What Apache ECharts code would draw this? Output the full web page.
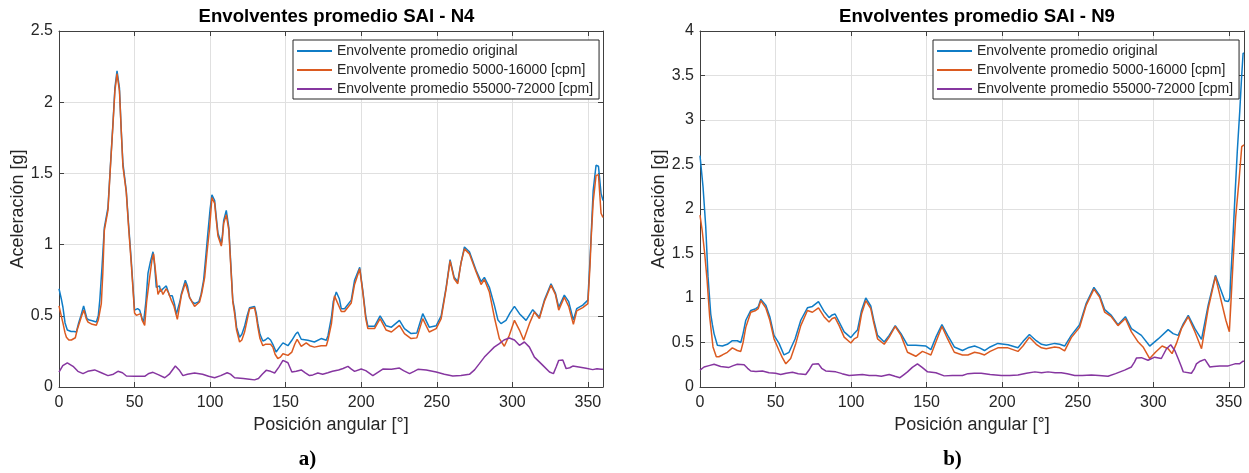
<!DOCTYPE html>
<html>
<head>
<meta charset="utf-8">
<title>Envolventes promedio SAI</title>
<script src="https://cdn.jsdelivr.net/npm/echarts@6/dist/echarts.min.js"></script>
<style>
  html, body { margin: 0; padding: 0; background: #fff; }
  #main { width: 1249px; height: 473px; }
</style>
</head>
<body>
<div id="main"></div>
<script>
// nombres de las series (leyenda)
const seriesNames = [
  'Envolvente promedio original',
  'Envolvente promedio 5000-16000 [cpm]',
  'Envolvente promedio 55000-72000 [cpm]'
]
const xTicks = { min: 0, max: 360, interval: 50 }

// N4: [posición angular, aceleración]
const n4Original = [[0,0.69],[1.5,0.62],[2.6,0.56],[4,0.45],[5.5,0.40],[8,0.39],[10,0.39],[11.5,0.386],[13,0.45],[14.5,0.5],[16.3,0.57],[17.5,0.52],[18.5,0.48],[20,0.47],[22,0.465],[24.7,0.456],[26,0.5],[27,0.61],[28.5,0.85],[30,1.12],[32.4,1.26],[34,1.55],[35.7,1.85],[37,2.1],[38.4,2.22],[40,2.1],[41.2,1.8],[42.3,1.57],[44.5,1.38],[46,1.15],[47.8,0.89],[49,0.7],[50,0.54],[51,0.53],[52,0.55],[53.4,0.54],[55,0.48],[56,0.456],[57.5,0.6],[58.9,0.8],[60.5,0.88],[62.2,0.95],[63.3,0.85],[64.4,0.70],[65.5,0.69],[66.5,0.71],[67.3,0.67],[68.8,0.69],[71,0.71],[73.2,0.64],[75,0.64],[76.5,0.58],[77.6,0.51],[78.7,0.50],[80,0.6],[81,0.655],[83.6,0.75],[85,0.71],[86.4,0.63],[88,0.6],[89.7,0.585],[91,0.59],[92.6,0.6],[94,0.65],[95.7,0.75],[97,0.9],[98.5,1.08],[100,1.25],[101.2,1.35],[103,1.31],[104,1.2],[105.2,1.08],[107.4,1.01],[108,1.05],[109,1.17],[110.7,1.24],[112.4,1.12],[113.5,0.9],[115,0.61],[116.2,0.54],[117.5,0.42],[119.5,0.35],[121,0.37],[122.8,0.426],[124.5,0.5],[126.1,0.557],[129.4,0.566],[130.5,0.52],[131.6,0.445],[133,0.37],[134.9,0.323],[136.5,0.33],[138.3,0.346],[140,0.33],[141.5,0.30],[143.7,0.246],[146,0.28],[148.2,0.31],[151.5,0.29],[154.1,0.328],[156.5,0.37],[158,0.386],[160.3,0.335],[164.7,0.328],[169,0.316],[173.5,0.34],[176.9,0.328],[178,0.36],[180.3,0.49],[181.5,0.6],[183.5,0.667],[185.5,0.62],[186.8,0.55],[189,0.55],[193.4,0.61],[195.6,0.75],[199,0.84],[201,0.68],[203,0.5],[204.4,0.426],[208.8,0.426],[212.5,0.50],[216.5,0.43],[220,0.42],[225.3,0.468],[228.6,0.41],[233,0.375],[236.8,0.38],[240.7,0.515],[245,0.42],[249.6,0.43],[252.9,0.50],[256.2,0.70],[258.8,0.895],[261.5,0.77],[263.9,0.74],[266,0.87],[268.3,0.983],[271.6,0.95],[276,0.82],[279.3,0.74],[281.5,0.77],[284.8,0.70],[288.1,0.575],[290.5,0.47],[292.5,0.445],[295.8,0.468],[298.5,0.52],[301.4,0.566],[304.7,0.515],[309.1,0.468],[313.5,0.543],[317.9,0.49],[321.2,0.61],[325.6,0.725],[328.5,0.66],[330.7,0.56],[334.4,0.645],[337.3,0.60],[340.4,0.47],[342.6,0.55],[346.6,0.575],[350,0.61],[351.4,0.9],[352.1,1.05],[353.5,1.38],[355.4,1.557],[357,1.55],[358.7,1.36],[360,1.31]]
const n4Banda1 = [[0,0.57],[1.5,0.5],[2.7,0.445],[4,0.38],[4.9,0.35],[6.5,0.33],[8.2,0.33],[10.8,0.346],[12,0.4],[13.7,0.456],[15,0.5],[16.5,0.54],[18,0.48],[19.2,0.456],[22,0.44],[24.7,0.433],[26,0.47],[28,0.585],[29,0.8],[30,1.1],[32.4,1.24],[34,1.54],[35.7,1.84],[37,2.08],[38.4,2.2],[40,2.08],[41.2,1.8],[42.3,1.55],[44.5,1.37],[46,1.13],[47.8,0.87],[49,0.68],[50,0.52],[51.2,0.503],[54,0.515],[55,0.47],[56.7,0.433],[58,0.6],[60,0.77],[61.5,0.89],[62.6,0.936],[64,0.8],[65.5,0.65],[67.3,0.69],[68.8,0.65],[71,0.69],[72.5,0.66],[74.3,0.61],[76,0.57],[78.3,0.475],[79.5,0.55],[81,0.644],[83.6,0.73],[86.4,0.63],[89.7,0.566],[93,0.597],[94.5,0.66],[96.4,0.77],[98,0.95],[99.7,1.12],[101.2,1.33],[103,1.29],[104,1.18],[105.2,1.06],[107.4,0.99],[108,1.03],[109,1.15],[110.7,1.21],[112.4,1.1],[113.5,0.88],[115,0.6],[116.2,0.515],[117.5,0.4],[119.5,0.316],[121,0.33],[122.8,0.386],[124.5,0.47],[126.1,0.55],[129.4,0.557],[130.5,0.5],[131.6,0.42],[133,0.34],[134.9,0.29],[136.5,0.3],[138.3,0.30],[140,0.3],[141.5,0.28],[143,0.23],[144.8,0.20],[146.5,0.21],[148.2,0.234],[151.5,0.222],[154.1,0.245],[156,0.3],[157.6,0.335],[160.3,0.285],[163.6,0.31],[166,0.29],[169,0.28],[173.5,0.29],[176.9,0.29],[178,0.33],[180.3,0.445],[182.3,0.64],[183.5,0.645],[186.8,0.53],[189,0.53],[193.4,0.59],[195.6,0.72],[199,0.83],[201,0.67],[203,0.48],[204.4,0.41],[208.8,0.41],[212.5,0.48],[216.5,0.40],[220,0.386],[225.3,0.433],[228.6,0.375],[233,0.34],[236.8,0.345],[240.7,0.48],[245,0.386],[249.6,0.41],[252.9,0.48],[256.2,0.69],[258.8,0.885],[261.5,0.76],[263.9,0.725],[266,0.87],[268.3,0.97],[271.6,0.935],[276,0.81],[279.3,0.72],[281.5,0.755],[284.8,0.667],[288.1,0.49],[291.4,0.34],[294.7,0.286],[298,0.363],[301.4,0.468],[304.7,0.40],[307.5,0.33],[311.3,0.445],[314.6,0.527],[317.9,0.48],[321.2,0.60],[325.6,0.715],[328.5,0.65],[330.7,0.54],[334.4,0.63],[337.3,0.566],[340.4,0.44],[342.6,0.534],[346.6,0.557],[350,0.585],[351.4,0.85],[352.1,1.03],[353.5,1.3],[355.4,1.486],[357,1.49],[358.7,1.22],[360,1.19]]
const n4Banda2 = [[0,0.105],[2.5,0.15],[5.5,0.17],[9.3,0.145],[12.5,0.11],[15.9,0.094],[19,0.11],[23.6,0.12],[28,0.1],[32.4,0.08],[36,0.09],[39,0.11],[42,0.1],[44.6,0.077],[50,0.075],[56.7,0.075],[59.5,0.095],[62.2,0.103],[66,0.085],[70,0.065],[73,0.09],[77,0.147],[79.5,0.12],[82,0.08],[85,0.09],[89.7,0.098],[95,0.09],[99,0.075],[103,0.065],[107,0.08],[111.3,0.10],[113.5,0.09],[116.2,0.065],[122,0.06],[126,0.055],[129.4,0.05],[132,0.06],[134.5,0.09],[137.1,0.117],[140,0.11],[142.7,0.098],[145.5,0.14],[148.2,0.187],[151.5,0.17],[154.1,0.105],[157,0.11],[160.3,0.12],[163,0.1],[165.8,0.08],[168,0.085],[171.3,0.098],[174.5,0.09],[177.9,0.10],[181,0.11],[185,0.12],[188,0.13],[191.2,0.145],[193.5,0.125],[195.6,0.11],[200,0.126],[203,0.115],[207.7,0.08],[210.5,0.1],[214.3,0.126],[220,0.125],[225.3,0.133],[228,0.115],[232,0.094],[235,0.11],[237.5,0.124],[243,0.12],[249.6,0.105],[255,0.09],[260.6,0.077],[266,0.08],[271.6,0.089],[275,0.12],[278.2,0.164],[281.5,0.21],[284.8,0.246],[288,0.28],[291.4,0.305],[294.5,0.33],[298,0.344],[301.4,0.33],[304.7,0.293],[308,0.316],[311.3,0.28],[314.6,0.21],[317.5,0.18],[320.2,0.152],[324.6,0.105],[327.2,0.094],[329,0.14],[330.7,0.187],[333.4,0.19],[335.6,0.129],[338,0.135],[340,0.147],[344,0.14],[348.8,0.131],[353.2,0.122],[356,0.128],[358.7,0.124],[360,0.125]]

// N9: [posición angular, aceleración]
const n9Original = [[0,2.6],[2,2.25],[3.8,1.8],[5.3,1.24],[7.1,0.82],[8.2,0.7],[9.3,0.60],[11.5,0.47],[14.8,0.46],[18.1,0.48],[21.4,0.52],[24.7,0.52],[27,0.50],[28.5,0.6],[30.3,0.75],[33.6,0.86],[36.9,0.88],[38.5,0.9],[40.2,0.985],[43.5,0.92],[46.2,0.79],[49,0.58],[52.3,0.49],[55.6,0.36],[58.9,0.39],[62.9,0.54],[66.7,0.75],[71.1,0.89],[74.4,0.905],[78.4,0.96],[82.1,0.85],[85.4,0.78],[87.5,0.81],[89.4,0.82],[92.1,0.73],[95.4,0.62],[99.8,0.555],[102,0.6],[104.2,0.64],[106.9,0.86],[109.7,1.0],[113,0.91],[115,0.75],[117.5,0.58],[121.9,0.505],[125.2,0.58],[129.2,0.69],[133,0.60],[137.3,0.47],[142.8,0.47],[149.5,0.46],[152.8,0.42],[156.1,0.56],[160.1,0.70],[163.9,0.58],[168.3,0.45],[173.7,0.41],[177.3,0.44],[181.7,0.46],[185,0.44],[188.3,0.41],[192,0.45],[197.1,0.49],[203.8,0.475],[210.4,0.44],[213.7,0.51],[218,0.59],[222.5,0.52],[226,0.48],[229.1,0.47],[234.7,0.49],[238,0.48],[241.3,0.46],[245.7,0.58],[251.2,0.70],[255.6,0.94],[260.7,1.12],[264.4,1.03],[267.8,0.87],[272.2,0.805],[276.6,0.70],[281.5,0.79],[285.5,0.655],[292.1,0.58],[297.6,0.46],[303.2,0.54],[309.8,0.645],[313.1,0.60],[316.4,0.58],[319.8,0.71],[323.1,0.805],[327.5,0.655],[331.9,0.535],[336.3,0.92],[341.1,1.255],[344,1.12],[347.3,0.97],[349.6,0.96],[350.6,1.0],[351.3,1.25],[352.8,1.72],[354.1,2.17],[355.6,2.66],[357.2,3.1],[358.3,3.45],[359.4,3.75],[360,3.75]]
const n9Banda1 = [[0,1.93],[1.5,1.75],[3.1,1.5],[4.7,1.2],[6.4,0.79],[8.6,0.45],[10.8,0.34],[12.5,0.34],[14.8,0.36],[18.1,0.39],[21.4,0.44],[24.7,0.41],[27,0.40],[28.5,0.5],[30.3,0.67],[33.6,0.84],[36.9,0.86],[38.5,0.88],[40.2,0.97],[43.5,0.89],[46.2,0.75],[49,0.54],[52.3,0.41],[54.5,0.33],[56.8,0.26],[60,0.32],[63.4,0.49],[66.7,0.69],[71.1,0.86],[74.4,0.84],[78.4,0.89],[82.1,0.79],[85.4,0.73],[87.5,0.77],[89.4,0.78],[92.1,0.69],[95.4,0.56],[99.8,0.495],[102,0.54],[104.2,0.56],[106.9,0.82],[109.7,0.97],[113,0.88],[115,0.72],[117.5,0.54],[121.9,0.48],[125.2,0.56],[129.2,0.68],[133,0.58],[137.3,0.39],[142.8,0.345],[147.2,0.40],[150,0.38],[152.8,0.36],[156.1,0.505],[160.1,0.68],[163.9,0.54],[168.3,0.39],[173.7,0.36],[177.3,0.36],[181.7,0.39],[185,0.38],[188.3,0.36],[192,0.4],[197.1,0.44],[203.8,0.44],[210.4,0.40],[213.7,0.46],[218,0.56],[222.5,0.48],[226,0.44],[229.1,0.43],[234.7,0.45],[238,0.44],[241.3,0.405],[245.7,0.555],[251.2,0.67],[255.6,0.92],[260.7,1.10],[264.4,1.01],[267.8,0.84],[272.2,0.79],[276.6,0.69],[281.5,0.77],[285.5,0.62],[290,0.505],[293.2,0.45],[297.6,0.32],[301.4,0.39],[305.8,0.46],[309.8,0.43],[312.4,0.375],[315.3,0.49],[318.6,0.655],[323.1,0.79],[327.5,0.62],[331.9,0.43],[336.3,0.88],[341.1,1.24],[345.1,0.955],[348,0.75],[350.3,0.62],[351.2,0.9],[352.8,1.42],[354.5,1.91],[356.7,2.32],[358.5,2.7],[360,2.72]]
const n9Banda2 = [[0,0.19],[2.7,0.225],[6,0.24],[9.3,0.255],[13.7,0.23],[19.2,0.22],[22,0.24],[24.7,0.255],[29.2,0.25],[31.5,0.21],[33.6,0.18],[37,0.175],[41.3,0.18],[45.7,0.16],[50,0.155],[53.4,0.14],[57,0.155],[61.2,0.165],[65,0.15],[70,0.14],[72.5,0.2],[74.4,0.255],[78.4,0.26],[80.5,0.21],[83.2,0.18],[89.9,0.17],[94,0.15],[98.7,0.13],[103,0.135],[107.5,0.14],[112,0.13],[116.4,0.13],[120,0.12],[125.2,0.14],[129,0.12],[132.3,0.105],[135,0.14],[137.3,0.17],[140.5,0.22],[143.9,0.26],[147,0.22],[150.6,0.17],[156.1,0.16],[161.6,0.125],[167,0.13],[173.7,0.13],[177.3,0.15],[181.5,0.155],[186.1,0.155],[192,0.14],[199.4,0.13],[205,0.13],[210.4,0.135],[216,0.155],[221.6,0.17],[226,0.16],[230.3,0.17],[235,0.16],[239.1,0.16],[243,0.15],[248,0.13],[253,0.13],[259,0.135],[264,0.13],[270,0.12],[275,0.15],[281,0.19],[285.5,0.225],[287.5,0.28],[288.8,0.325],[292.1,0.33],[296.5,0.30],[300.9,0.335],[305.3,0.32],[308.7,0.43],[311.5,0.475],[314.2,0.41],[316.4,0.32],[318.5,0.23],[319.8,0.17],[325.2,0.155],[327,0.2],[328.5,0.26],[331,0.29],[334.1,0.31],[337.4,0.225],[340,0.23],[344,0.235],[349.6,0.237],[354,0.26],[357,0.26],[359.4,0.29],[360,0.29]]

const colors = ['#0F7CC6', '#DB5A20', '#8636A0']
const FONT = '"Liberation Sans", Arial, Helvetica, sans-serif'
const AXIS = '#404040'
const TXT = '#262626'

function xAxisFor(gridIndex, top) {
  return {
    type: 'value', gridIndex, position: top ? 'top' : 'bottom',
    min: xTicks.min, max: xTicks.max, interval: xTicks.interval,
    name: top ? '' : 'Posición angular [°]',
    nameLocation: 'middle', nameGap: 23,
    nameTextStyle: { fontFamily: FONT, fontSize: 18, color: TXT },
    axisLine: { show: true, onZero: false, lineStyle: { color: AXIS, width: 1 } },
    axisTick: { show: true, inside: true, length: 5, lineStyle: { color: AXIS } },
    axisLabel: { show: !top, showMaxLabel: false, fontFamily: FONT, fontSize: 16, color: TXT, margin: 8 },
    splitLine: { show: !top, lineStyle: { color: '#e0e0e0', width: 1 } }
  }
}
function yAxisFor(gridIndex, max, right) {
  return {
    type: 'value', gridIndex, position: right ? 'right' : 'left',
    min: 0, max, interval: 0.5,
    name: right ? '' : 'Aceleración [g]',
    nameLocation: 'middle', nameGap: 32,
    nameTextStyle: { fontFamily: FONT, fontSize: 18, color: TXT },
    axisLine: { show: true, onZero: false, lineStyle: { color: AXIS, width: 1 } },
    axisTick: { show: true, inside: true, length: 5, lineStyle: { color: AXIS } },
    axisLabel: { show: !right, fontFamily: FONT, fontSize: 16, color: TXT, margin: 6 },
    splitLine: { show: !right, lineStyle: { color: '#e0e0e0', width: 1 } }
  }
}
function line(name, data, gi, color) {
  return {
    name, type: 'line', data, xAxisIndex: gi, yAxisIndex: gi,
    symbol: 'none', showSymbol: false, color,
    lineStyle: { width: 1.5, color }, z: 3
  }
}
function legendFor(left) {
  return {
    data: seriesNames, orient: 'vertical', left, top: 40,
    icon: 'rect', itemWidth: 35, itemHeight: 2, itemGap: 5,
    padding: [4, 6, 3, 4],
    backgroundColor: '#fff', borderColor: '#262626', borderWidth: 1,
    textStyle: { fontFamily: FONT, fontSize: 14, color: TXT, lineHeight: 14 },
    selectedMode: false
  }
}

const chart = echarts.init(document.getElementById('main'), null, { renderer: 'canvas' })
chart.setOption({
  animation: false,
  backgroundColor: '#fff',
  title: [
    { text: 'Envolventes promedio SAI - N4', left: 331.5, top: 2, textAlign: 'center',
      textStyle: { fontFamily: FONT, fontSize: 18.6, fontWeight: 'bold', color: '#000' } },
    { text: 'Envolventes promedio SAI - N9', left: 972, top: 2, textAlign: 'center',
      textStyle: { fontFamily: FONT, fontSize: 18.6, fontWeight: 'bold', color: '#000' } }
  ],
  legend: [legendFor(293), legendFor(933)],
  grid: [
    { left: 59, top: 31, width: 544, height: 356, show: false },
    { left: 700, top: 31, width: 544, height: 356, show: false }
  ],
  xAxis: [xAxisFor(0, false), xAxisFor(1, false), xAxisFor(0, true), xAxisFor(1, true)],
  yAxis: [yAxisFor(0, 2.5, false), yAxisFor(1, 4, false), yAxisFor(0, 2.5, true), yAxisFor(1, 4, true)],
  series: [
    line(seriesNames[0], n4Original, 0, colors[0]),
    line(seriesNames[1], n4Banda1, 0, colors[1]),
    line(seriesNames[2], n4Banda2, 0, colors[2]),
    line(seriesNames[0], n9Original, 1, colors[0]),
    line(seriesNames[1], n9Banda1, 1, colors[1]),
    line(seriesNames[2], n9Banda2, 1, colors[2])
  ],
  graphic: [
    { type: 'text', x: 307.5, y: 460, style: { text: 'a)', font: 'bold 21px "Liberation Serif", "Times New Roman", serif', fill: '#000', align: 'center', verticalAlign: 'middle' } },
    { type: 'text', x: 952.5, y: 460, style: { text: 'b)', font: 'bold 21px "Liberation Serif", "Times New Roman", serif', fill: '#000', align: 'center', verticalAlign: 'middle' } }
  ]
})
</script>
</body>
</html>
